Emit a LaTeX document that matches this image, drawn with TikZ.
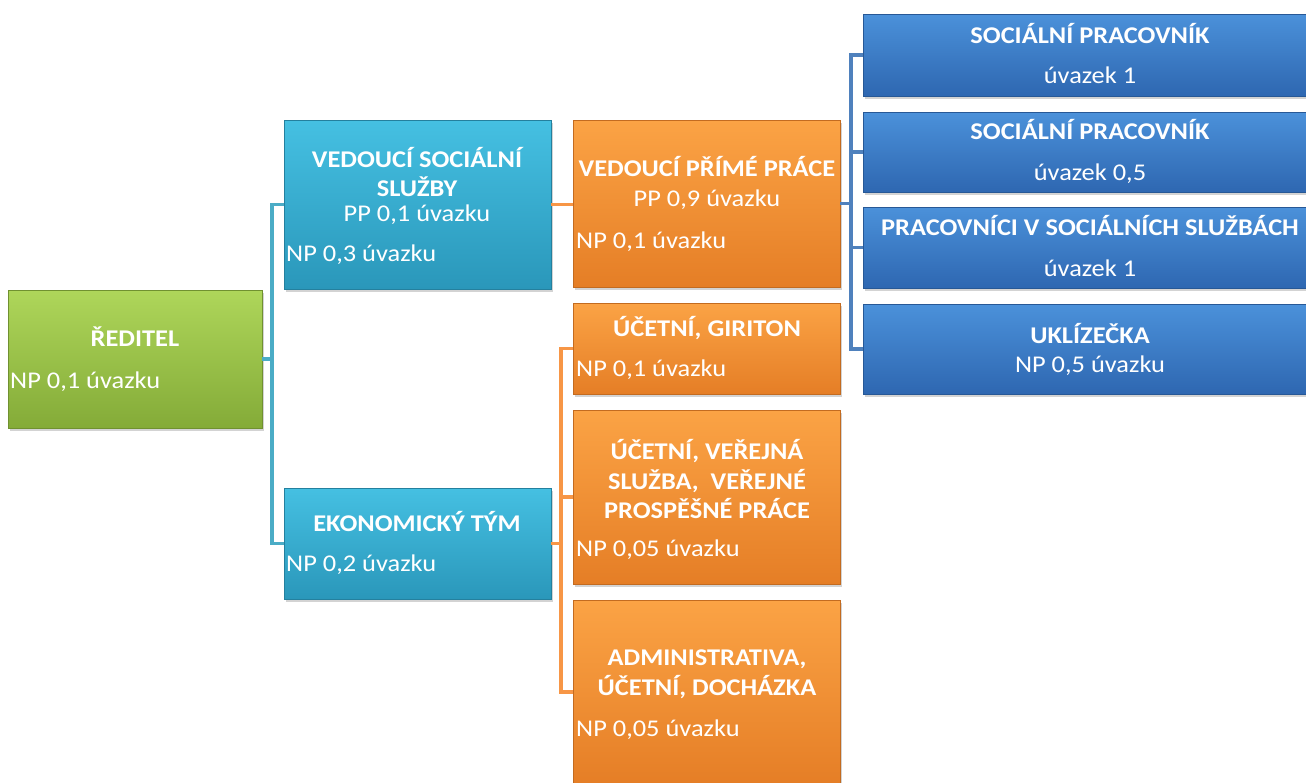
\documentclass[tikz,border=0pt]{standalone}
\usepackage{fontspec}
\setmainfont{Carlito}[FakeStretch=1.1]
\usetikzlibrary{shadows}

\definecolor{grtop}{HTML}{AED65A}
\definecolor{grbot}{HTML}{84AB38}
\definecolor{tltop}{HTML}{45C0E2}
\definecolor{tlbot}{HTML}{2A97BA}
\definecolor{ortop}{HTML}{FBA345}
\definecolor{orbot}{HTML}{E57E26}
\definecolor{bltop}{HTML}{4B91DA}
\definecolor{blbot}{HTML}{2E67B1}
\definecolor{tlline}{HTML}{4BACC6}
\definecolor{orline}{HTML}{F79646}
\definecolor{blline}{HTML}{4F81BD}

\begin{document}
\begin{tikzpicture}[x=1pt,y=-1pt,
    box/.style={anchor=north west, inner sep=0pt, outer sep=0pt,
        drop shadow={opacity=0.35, shadow xshift=2pt, shadow yshift=-3pt}},
    grbox/.style={box, top color=grtop, bottom color=grbot, draw=grbot!85!black, line width=0.6pt},
    tlbox/.style={box, top color=tltop, bottom color=tlbot, draw=tlbot!85!black, line width=0.6pt},
    orbox/.style={box, top color=ortop, bottom color=orbot, draw=orbot!85!black, line width=0.6pt},
    blbox/.style={box, top color=bltop, bottom color=blbot, draw=blbot!85!black, line width=0.6pt},
    ttl/.style={text=white, font=\fontsize{24}{29.5}\selectfont\bfseries, inner sep=0pt, align=center},
    sub/.style={text=white, font=\fontsize{24}{29.5}\selectfont, inner sep=0pt, anchor=base},
    np/.style={sub, anchor=base west},
    conn/.style={line width=3.6pt}]

    \clip (0,0) rectangle (1306,782);

    %reditel
    \node[grbox, minimum width=254pt, minimum height=138pt] (reditel) at (8,290) {};
    \node[ttl, anchor=base] (reditelT) at (135,346) {ŘEDITEL};
    \node[np] (reditelNP) at (10,388) {NP 0,1 úvazku};

    %vedouci socialni sluzby
    \node[tlbox, minimum width=267pt, minimum height=169pt] (vss) at (284,120) {};
    \node[ttl] (vssT) at (417,172) {VEDOUCÍ SOCIÁLNÍ\\SLUŽBY};
    \node[sub] (vssPP) at (417,221) {PP 0,1 úvazku};
    \node[np] (vssNP) at (286,261) {NP 0,3 úvazku};

    %ekonomicky tym
    \node[tlbox, minimum width=267pt, minimum height=111pt] (eko) at (284,488) {};
    \node[ttl, anchor=base] (ekoT) at (417,531) {EKONOMICKÝ TÝM};
    \node[np] (ekoNP) at (286,571) {NP 0,2 úvazku};

    %vedouci prime prace
    \node[orbox, minimum width=267pt, minimum height=167pt] (vpp) at (573,120) {};
    \node[ttl, anchor=base] (vppT) at (707,176) {VEDOUCÍ PŘÍMÉ PRÁCE};
    \node[sub] (vppPP) at (707,206) {PP 0,9 úvazku};
    \node[np] (vppNP) at (576,248) {NP 0,1 úvazku};

    %ucetni
    \node[orbox, minimum width=267pt, minimum height=91pt] (ucGir) at (573,303) {};
    \node[ttl, anchor=base] (ucGirT) at (707,336) {ÚČETNÍ, GIRITON};
    \node[np] (ucGirNP) at (576,376) {NP 0,1 úvazku};

    \node[orbox, minimum width=267pt, minimum height=174pt] (ucVer) at (573,410) {};
    \node[ttl] (ucVerT) at (707,479) {ÚČETNÍ, VEŘEJNÁ\\SLUŽBA,~ VEŘEJNÉ\\PROSPĚŠNÉ PRÁCE};
    \node[np] (ucVerNP) at (576,556) {NP 0,05 úvazku};

    \node[orbox, minimum width=267pt, minimum height=184pt] (adm) at (573,600) {};
    \node[ttl] (admT) at (707,674) {ADMINISTRATIVA,\\ÚČETNÍ, DOCHÁZKA};
    \node[np] (admNP) at (576,736) {NP 0,05 úvazku};

    %pracovnici
    \node[blbox, minimum width=454pt, minimum height=82pt] (sp1) at (863,14) {};
    \node[ttl, anchor=base] (sp1T) at (1090,43) {SOCIÁLNÍ PRACOVNÍK};
    \node[sub] (sp1U) at (1090,83) {úvazek 1};

    \node[blbox, minimum width=454pt, minimum height=80pt] (sp2) at (863,112) {};
    \node[ttl, anchor=base] (sp2T) at (1090,139) {SOCIÁLNÍ PRACOVNÍK};
    \node[sub] (sp2U) at (1090,180) {úvazek 0,5};

    \node[blbox, minimum width=454pt, minimum height=81pt] (pss) at (863,207) {};
    \node[ttl, anchor=base] (pssT) at (1090,235) {PRACOVNÍCI V SOCIÁLNÍCH SLUŽBÁCH};
    \node[sub] (pssU) at (1090,276) {úvazek 1};

    \node[blbox, minimum width=454pt, minimum height=90pt] (ukl) at (863,304) {};
    \node[ttl, anchor=base] (uklT) at (1090,343) {UKLÍZEČKA};
    \node[sub] (uklNP) at (1090,372) {NP 0,5 úvazku};

    %spojnice
    \draw[conn] [tlline] (reditel.east) -- ++(10,0) |- (vss.west);
    \draw[conn] [tlline] (reditel.east) -- ++(10,0) |- (eko.west);
    \draw[conn] [orline] (vss.east) -- (vss.east -| vpp.west);
    \draw[conn] [orline] (eko.east) -- ++(10,0) |- (ucGir.west);
    \draw[conn] [orline] (eko.east) -- ++(10,0) |- (ucVer.west);
    \draw[conn] [orline] (eko.east) -- ++(10,0) |- (adm.west);
    \draw[conn] [blline] (vpp.east) -- ++(11,0) |- (sp1.west);
    \draw[conn] [blline] (vpp.east) -- ++(11,0) |- (sp2.west);
    \draw[conn] [blline] (vpp.east) -- ++(11,0) |- (pss.west);
    \draw[conn] [blline] (vpp.east) -- ++(11,0) |- (ukl.west);
\end{tikzpicture}
\end{document}
